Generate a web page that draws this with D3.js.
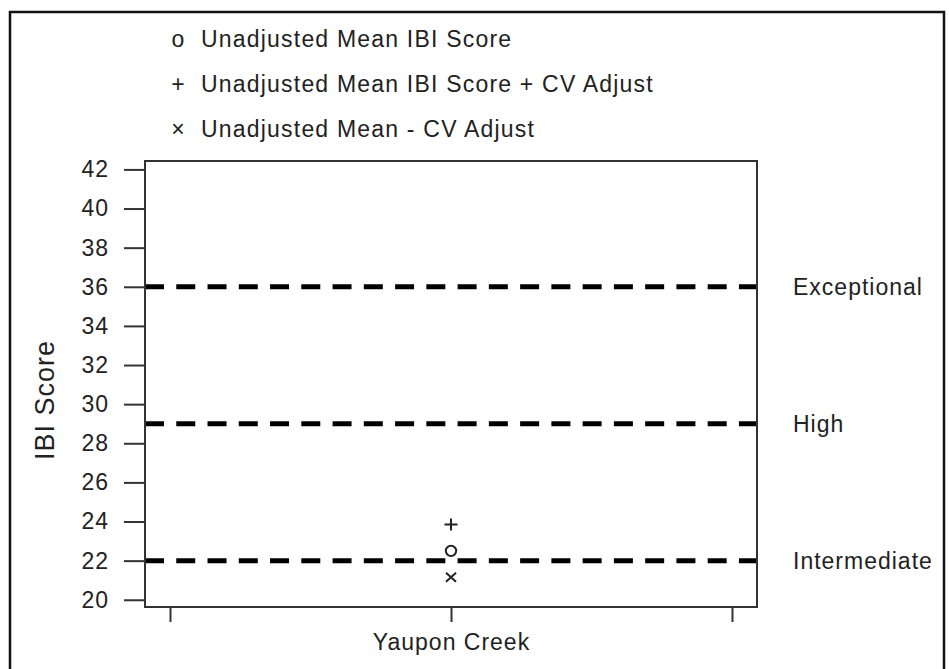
<!DOCTYPE html>
<html>
<head>
<meta charset="utf-8">
<script src="https://cdn.jsdelivr.net/npm/d3@7"></script>
<style>
  html, body { margin: 0; padding: 0; background: #fff; }
  svg text { font-family: "Liberation Sans", Arial, Helvetica, sans-serif; fill: #222; letter-spacing: 1px; }
</style>
</head>
<body>
<svg id="chart" width="949" height="669"></svg>
<script>
// ---- data ----
const categories = ["", "Yaupon Creek", ""];
const yTicks = [20, 22, 24, 26, 28, 30, 32, 34, 36, 38, 40, 42];
const thresholdValues = [36, 29, 22];
const thresholdLabels = ["Exceptional", "High", "Intermediate"];
const seriesNames = ["Unadjusted Mean IBI Score", "Unadjusted Mean IBI Score + CV Adjust", "Unadjusted Mean - CV Adjust"];
const seriesSymbols = ["o", "+", "\u00d7"];
const unadjustedMean = [22.5];
const meanPlusCV = [23.85];
const meanMinusCV = [21.15];
const siteIndex = [1];

// ---- layout ----
const svg = d3.select("#chart");
const box = { left: 145, right: 757, top: 161, bottom: 607 };

const x = d3.scaleLinear().domain([-0.089, 2.089]).range([box.left, box.right]);
const y = d3.scaleLinear().domain([19.63, 42.43]).range([box.bottom, box.top]);

// outer frame
svg.append("rect")
  .attr("x", 10).attr("y", 12).attr("width", 934).attr("height", 680)
  .attr("fill", "none").attr("stroke", "#111").attr("stroke-width", 2.5);

// legend
const legend = svg.append("g");
seriesNames.forEach((name, i) => {
  const ly = 47 + i * 45;
  legend.append("text")
    .attr("x", 178).attr("y", ly)
    .attr("text-anchor", "middle")
    .style("font-size", "23px")
    .style("letter-spacing", "0px")
    .text(seriesSymbols[i]);
  legend.append("text")
    .attr("x", 201).attr("y", ly)
    .style("font-size", "23px")
    .style("letter-spacing", "1.2px")
    .text(name);
});

// threshold dashed lines
svg.append("g").selectAll("line")
  .data(thresholdValues)
  .join("line")
  .attr("x1", box.left).attr("x2", box.right)
  .attr("y1", d => y(d)).attr("y2", d => y(d))
  .attr("stroke", "#000")
  .attr("stroke-width", 5)
  .attr("stroke-dasharray", "19,12.26");

// threshold labels
svg.append("g").selectAll("text")
  .data(thresholdValues)
  .join("text")
  .attr("x", 793)
  .attr("y", d => y(d))
  .attr("dy", "0.35em")
  .style("font-size", "23px")
  .text((d, i) => thresholdLabels[i]);

// plot box
svg.append("rect")
  .attr("x", box.left).attr("y", box.top)
  .attr("width", box.right - box.left).attr("height", box.bottom - box.top)
  .attr("fill", "none").attr("stroke", "#333").attr("stroke-width", 2);

// y axis
const yAxis = svg.append("g")
  .attr("transform", `translate(${box.left},0)`)
  .call(d3.axisLeft(y).tickValues(yTicks).tickSize(21).tickPadding(15).tickFormat(d3.format("d")));
yAxis.select(".domain").remove();
yAxis.selectAll(".tick line").attr("stroke", "#333").attr("stroke-width", 2);
yAxis.selectAll(".tick text").style("font-size", "23px").style("font-family", "'Liberation Sans', Arial, sans-serif").attr("fill", "#222");

// x axis
const xAxis = svg.append("g")
  .attr("transform", `translate(0,${box.bottom})`)
  .call(d3.axisBottom(x).tickValues([0, 1, 2]).tickSize(15).tickPadding(12).tickFormat(d => categories[d]));
xAxis.select(".domain").remove();
xAxis.selectAll(".tick line").attr("stroke", "#333").attr("stroke-width", 2);
xAxis.selectAll(".tick text").style("font-size", "23px").style("font-family", "'Liberation Sans', Arial, sans-serif").attr("fill", "#222");

// y axis title
svg.append("text")
  .attr("transform", `translate(54,400) rotate(-90)`)
  .attr("text-anchor", "middle")
  .style("font-size", "27px")
  .text("IBI Score");

// points
const marks = svg.append("g").attr("fill", "none").attr("stroke", "#222").attr("stroke-width", 2);
marks.selectAll("circle")
  .data(unadjustedMean)
  .join("circle")
  .attr("cx", (d, i) => x(siteIndex[i]))
  .attr("cy", d => y(d))
  .attr("r", 5.2)
  .attr("fill", "#fff");
marks.selectAll("path.plus")
  .data(meanPlusCV)
  .join("path")
  .attr("class", "plus")
  .attr("d", (d, i) => {
    const cx = x(siteIndex[i]), cy = y(d);
    return `M${cx - 6.5},${cy}H${cx + 6.5}M${cx},${cy - 6}V${cy + 6}`;
  });
marks.selectAll("path.times")
  .data(meanMinusCV)
  .join("path")
  .attr("class", "times")
  .attr("d", (d, i) => {
    const cx = x(siteIndex[i]), cy = y(d);
    return `M${cx - 5},${cy - 4.5}L${cx + 5},${cy + 4.5}M${cx - 5},${cy + 4.5}L${cx + 5},${cy - 4.5}`;
  });
</script>
</body>
</html>
